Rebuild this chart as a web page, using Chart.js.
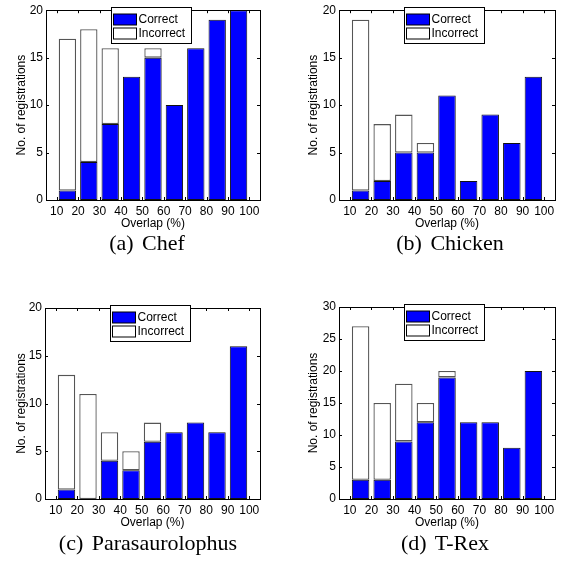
<!DOCTYPE html>
<html>
<head>
<meta charset="utf-8">
<script src="https://cdn.jsdelivr.net/npm/chart.js@4.4.0/dist/chart.umd.min.js"></script>
<style>
  body { margin: 0; background: #fff; width: 562px; height: 561px; position: relative; overflow: hidden; }
  canvas { position: absolute; }
  .cap {
    position: absolute;
    font-family: "Liberation Serif", "DejaVu Serif", serif;
    font-size: 22px;
    color: #000;
    transform: translate(-50%, -50%);
    white-space: nowrap;
    word-spacing: 3px;
  }
</style>
</head>
<body>
<canvas id="chef" width="281" height="232" style="left:0;top:0"></canvas>
<canvas id="chicken" width="281" height="232" style="left:281px;top:0"></canvas>
<canvas id="para" width="281" height="241" style="left:0;top:290px"></canvas>
<canvas id="trex" width="281" height="241" style="left:281px;top:290px"></canvas>
<div class="cap" style="left:147px;top:243px">(a) Chef</div>
<div class="cap" style="left:450px;top:243px">(b) Chicken</div>
<div class="cap" style="left:148px;top:543px">(c) Parasaurolophus</div>
<div class="cap" style="left:445px;top:543px">(d) T-Rex</div>
<script>
// centri dei bin di overlap (10-20, 20-30, ... 90-100)
const overlapBins = [15, 25, 35, 45, 55, 65, 75, 85, 95];
const tickLabels = [10, 20, 30, 40, 50, 60, 70, 80, 90, 100];

const chefCorrect = [1, 4, 8, 13, 15, 10, 16, 19, 20];
const chefIncorrect = [16, 14, 8, 0, 1, 0, 0, 0, 0];

const chickenCorrect = [1, 2, 5, 5, 11, 2, 9, 6, 13];
const chickenIncorrect = [18, 6, 4, 1, 0, 0, 0, 0, 0];

const paraCorrect = [1, 0, 4, 3, 6, 7, 8, 7, 16];
const paraIncorrect = [12, 11, 3, 2, 2, 0, 0, 0, 0];

const trexCorrect = [3, 3, 9, 12, 19, 12, 12, 8, 20];
const trexIncorrect = [24, 12, 9, 3, 1, 0, 0, 0, 0];

const FONT = "Liberation Sans, Arial, sans-serif";

// cornice, tacche interne e legenda in stile MATLAB
const matlabAxes = {
  id: "matlabAxes",
  afterDraw(chart) {
    const ctx = chart.ctx;
    const a = chart.chartArea;
    const xs = chart.scales.x;
    const ys = chart.scales.y;
    ctx.save();
    ctx.strokeStyle = "#000";
    ctx.lineWidth = 1;
    ctx.beginPath();
    xs.ticks.forEach(function (t) {
      const px = Math.round(xs.getPixelForValue(t.value)) + 0.5;
      ctx.moveTo(px, a.bottom); ctx.lineTo(px, a.bottom - 3);
      ctx.moveTo(px, a.top); ctx.lineTo(px, a.top + 3);
    });
    ys.ticks.forEach(function (t) {
      const py = Math.round(ys.getPixelForValue(t.value)) + 0.5;
      ctx.moveTo(a.left, py); ctx.lineTo(a.left + 3, py);
      ctx.moveTo(a.right, py); ctx.lineTo(a.right - 3, py);
    });
    ctx.stroke();
    ctx.strokeRect(Math.round(a.left) + 0.5, Math.round(a.top) + 0.5,
      Math.round(a.right - a.left), Math.round(a.bottom - a.top));

    // legenda
    const lx = Math.round(a.left + 65) + 0.5;
    const ly = Math.round(a.top - 3) + 0.5;
    ctx.fillStyle = "#fff";
    ctx.fillRect(lx, ly, 80, 36);
    ctx.strokeRect(lx, ly, 80, 36);
    ctx.font = "12px " + FONT;
    ctx.textBaseline = "middle";
    chart.data.datasets.forEach(function (ds, i) {
      const sy = ly + 6 + i * 14.5;
      ctx.fillStyle = ds.backgroundColor;
      ctx.fillRect(lx + 2, Math.round(sy), 23, 11);
      ctx.strokeStyle = "#000";
      ctx.strokeRect(lx + 2, Math.round(sy), 23, 11);
      ctx.fillStyle = "#000";
      ctx.fillText(ds.label, lx + 27, sy + 6);
    });
    ctx.restore();
  }
};

function makeChart(id, correct, incorrect, yMax, pad, yWidth, yTitlePad) {
  new Chart(id, {
    type: "bar",
    data: {
      datasets: [
        {
          label: "Correct",
          data: overlapBins.map((x, i) => ({ x: x, y: correct[i] })),
          backgroundColor: "#0000ff",
          borderColor: "#111",
          borderWidth: 1,
          borderSkipped: false,
        },
        {
          label: "Incorrect",
          data: overlapBins.map((x, i) => ({ x: x, y: incorrect[i] })),
          backgroundColor: "#ffffff",
          borderColor: "#555",
          borderWidth: 1.3,
          borderSkipped: false,
        },
      ],
    },
    options: {
      responsive: false,
      animation: false,
      barPercentage: 0.81,
      categoryPercentage: 1,
      layout: { padding: pad },
      plugins: { legend: { display: false }, tooltip: { enabled: false } },
      scales: {
        x: {
          type: "linear",
          stacked: true,
          offset: false,
          min: 5,
          max: 105,
          grid: { display: false, drawTicks: false },
          border: { display: true, color: "#000" },
          afterBuildTicks: function (scale) {
            scale.ticks = tickLabels.map((v) => ({ value: v }));
          },
          afterFit: function (scale) { scale.height = 32; },
          ticks: {
            autoSkip: false,
            maxRotation: 0,
            padding: 4,
            color: "#000",
            font: { family: FONT, size: 12 },
            callback: (v) => String(v),
          },
          title: {
            display: true,
            text: "Overlap (%)",
            color: "#000",
            font: { family: FONT, size: 12 },
            padding: { top: 0, bottom: 1 },
          },
        },
        y: {
          stacked: true,
          min: 0,
          max: yMax,
          grid: { display: false, drawTicks: false },
          border: { display: true, color: "#000" },
          afterFit: function (scale) { scale.width = yWidth; },
          ticks: {
            stepSize: 5,
            padding: 3,
            color: "#000",
            font: { family: FONT, size: 12 },
          },
          title: {
            display: true,
            text: "No. of registrations",
            color: "#000",
            font: { family: FONT, size: 12 },
            padding: { top: yTitlePad, bottom: 0 },
          },
        },
      },
    },
    plugins: [matlabAxes],
  });
}

makeChart("chef", chefCorrect, chefIncorrect, 20, { left: 0, top: 10, right: 21, bottom: 0 }, 46, 14);
makeChart("chicken", chickenCorrect, chickenIncorrect, 20, { left: 0, top: 9, right: 7, bottom: 0 }, 58, 25);
makeChart("para", paraCorrect, paraIncorrect, 20, { left: 0, top: 18, right: 21, bottom: 0 }, 45, 14);
makeChart("trex", trexCorrect, trexIncorrect, 30, { left: 0, top: 17, right: 7, bottom: 0 }, 58, 25);
</script>
</body>
</html>
